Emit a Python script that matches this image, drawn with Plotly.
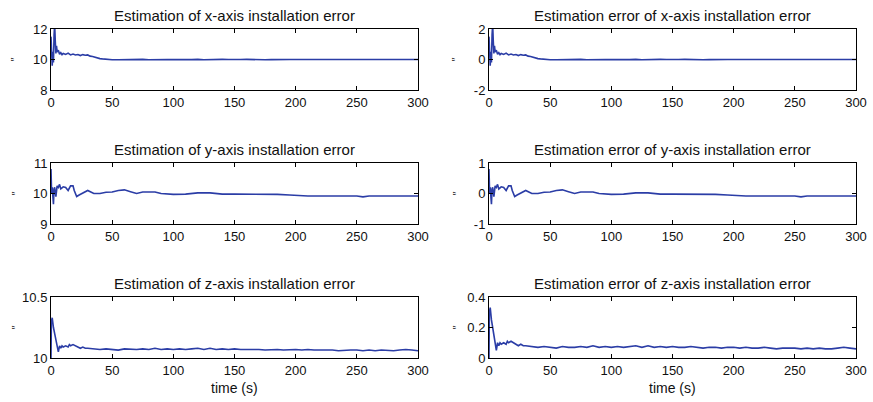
import plotly.graph_objects as go

# ---------------- data ----------------
true_value = 10.0  # nominal installation error (″); errors = estimate - true value

t_x = [0, 0.5, 1, 1.5, 2, 2.5, 3, 3.5, 4, 4.5, 5, 6, 7, 8, 9, 10, 12, 14, 16, 18, 20,
       22, 24, 26, 28, 30, 32, 34, 36, 38, 40, 42, 44, 46, 48, 50, 55, 60, 65, 70,
       75, 80, 85, 90, 95, 100, 105, 110, 115, 120, 125, 130, 135, 140, 145, 150,
       155, 160, 165, 170, 175, 180, 185, 190, 195, 200, 250, 300]
x_est = [11.5, 10.9, 9.6, 10.5, 9.8, 11.6, 12.3, 11.2, 10.4, 10.9, 10.5, 10.6, 10.35,
         10.45, 10.32, 10.4, 10.33, 10.42, 10.3, 10.36, 10.3, 10.33, 10.26, 10.32,
         10.28, 10.3, 10.22, 10.2, 10.14, 10.1, 10.06, 10.04, 10.02, 10.0, 9.99,
         9.98, 9.98, 9.99, 10.02, 9.99, 10.01, 9.98, 10.0, 9.99, 10.0, 9.99, 10.02,
         10.0, 9.99, 10.01, 9.98, 10.0, 9.99, 10.01, 10.0, 9.98, 10.0, 10.01, 9.99,
         10.0, 9.98, 9.99, 10.01, 9.99, 10.0, 10.0, 10.0, 10.0]

t_y = [0, 0.5, 1, 1.5, 2, 2.5, 3, 4, 5, 6, 7, 8, 10, 12, 14, 16, 18, 19, 21, 23, 25,
       30, 35, 40, 45, 50, 55, 60, 65, 70, 75, 80, 85, 90, 100, 110, 120, 130, 140,
       150, 160, 170, 185, 195, 205, 210, 250, 255, 260, 280, 300]
y_est = [10.8, 10.0, 10.2, 9.85, 9.65, 10.15, 10.2, 9.9, 10.25, 10.2, 10.3, 10.15,
         10.22, 10.2, 10.1, 10.25, 10.25, 10.1, 9.9, 9.95, 10.0, 10.1, 10.0, 10.0,
         10.04, 10.05, 10.1, 10.12, 10.06, 10.0, 10.05, 10.06, 10.05, 10.0, 9.97,
         9.98, 10.02, 10.02, 9.98, 9.98, 9.98, 9.97, 9.97, 9.95, 9.93, 9.92, 9.92,
         9.89, 9.92, 9.92, 9.92]

t_z = [0, 0.3, 1, 1.5, 2, 3, 4, 5, 6, 7, 8, 9, 10, 12, 14, 15, 16, 18, 20, 22, 24,
       26, 28, 30, 35, 40, 45, 50, 55, 60, 65, 70, 75, 80, 85, 90, 95, 100, 105,
       110, 115, 120, 125, 130, 135, 140, 145, 150, 155, 160, 165, 170, 175, 180,
       185, 190, 195, 200, 205, 210, 215, 220, 225, 230, 235, 240, 245, 250, 255,
       260, 265, 270, 275, 280, 285, 290, 295, 300]
z_est = [10.0, 10.3, 10.33, 10.26, 10.25, 10.2, 10.15, 10.09, 10.05, 10.1, 10.08,
         10.1, 10.09, 10.1, 10.09, 10.11, 10.1, 10.11, 10.1, 10.09, 10.08, 10.09,
         10.08, 10.08, 10.075, 10.07, 10.075, 10.07, 10.065, 10.075, 10.07, 10.07,
         10.075, 10.07, 10.08, 10.07, 10.075, 10.07, 10.075, 10.07, 10.075, 10.08,
         10.07, 10.08, 10.07, 10.075, 10.07, 10.075, 10.07, 10.07, 10.075, 10.07,
         10.065, 10.07, 10.07, 10.065, 10.07, 10.07, 10.065, 10.07, 10.065, 10.065,
         10.07, 10.065, 10.06, 10.065, 10.065, 10.065, 10.06, 10.065, 10.06, 10.065,
         10.06, 10.06, 10.065, 10.07, 10.065, 10.06]

x_err = [round(v - true_value, 4) for v in x_est]
y_err = [round(v - true_value, 4) for v in y_est]
z_err = [round(v - true_value, 4) for v in z_est]

titles = ["Estimation of x-axis installation error", "Estimation error of x-axis installation error",
          "Estimation of y-axis installation error", "Estimation error of y-axis installation error",
          "Estimation of z-axis installation error", "Estimation error of z-axis installation error"]
y_ranges = [[8, 12], [-2, 2], [9, 11], [-1, 1], [10, 10.5], [0, 0.4]]
y_tickvals = [[8, 10, 12], [-2, 0, 2], [9, 10, 11], [-1, 0, 1], [10, 10.5], [0, 0.2, 0.4]]
y_ticktext = [["8", "10", "12"], ["-2", "0", "2"], ["9", "10", "11"], ["-1", "0", "1"],
              ["10", "10.5"], ["0", "0.2", "0.4"]]
x_tickvals = [0, 50, 100, 150, 200, 250, 300]
x_label = "time (s)"
y_unit = "″"

series = [(t_x, x_est), (t_x, x_err), (t_y, y_est), (t_y, y_err), (t_z, z_est), (t_z, z_err)]

# ---------------- layout ----------------
W, H = 873, 402
col_px = [(51, 418), (489, 856)]
row_px = [(29, 90), (163, 224), (297, 358)]
line_color = "#2B3DA6"
font_family = "Liberation Sans, Arial, sans-serif"

fig = go.Figure()
annotations = []
for i, (tt, vv) in enumerate(series):
    r, c = divmod(i, 2)
    n = i + 1
    xa = "x" if n == 1 else f"x{n}"
    ya = "y" if n == 1 else f"y{n}"
    fig.add_trace(go.Scatter(x=tt, y=vv, mode="lines", xaxis=xa, yaxis=ya,
                             line=dict(color=line_color, width=1.6), showlegend=False,
                             hoverinfo="skip"))
    x0, x1 = col_px[c]
    top, bot = row_px[r]
    xd = [x0 / W, x1 / W]
    yd = [(H - bot) / H, (H - top) / H]
    axis_common = dict(showline=True, linecolor="black", linewidth=1, mirror="ticks",
                       ticks="inside", ticklen=4, tickcolor="black", showgrid=False,
                       zeroline=False, automargin=False,
                       tickfont=dict(family=font_family, size=13, color="#111"))
    fig.layout[f"xaxis{'' if n == 1 else n}"] = dict(
        domain=xd, range=[0, 300], tickvals=x_tickvals, anchor=ya, **axis_common)
    fig.layout[f"yaxis{'' if n == 1 else n}"] = dict(
        domain=yd, range=y_ranges[i], tickvals=y_tickvals[i], ticktext=y_ticktext[i],
        anchor=xa, **axis_common)
    # subplot title
    annotations.append(dict(text=titles[i], x=(xd[0] + xd[1]) / 2, y=yd[1], xref="paper",
                            yref="paper", xanchor="center", yanchor="bottom", yshift=3,
                            showarrow=False, font=dict(family=font_family, size=15, color="#111")))
    # y unit label
    ux = (15 if c == 0 else 456) / W
    annotations.append(dict(text=y_unit, x=ux, y=(yd[0] + yd[1]) / 2, xref="paper",
                            yref="paper", xanchor="center", yanchor="middle", textangle=-90,
                            showarrow=False, font=dict(family=font_family, size=11, color="#111")))

for c in range(2):
    x0, x1 = col_px[c]
    annotations.append(dict(text=x_label, x=(x0 + x1) / 2 / W, y=(H - 388) / H, xref="paper",
                            yref="paper", xanchor="center", yanchor="middle", showarrow=False,
                            font=dict(family=font_family, size=14, color="#111")))

fig.update_layout(width=W, height=H, margin=dict(l=0, r=0, t=0, b=0),
                  paper_bgcolor="white", plot_bgcolor="white", annotations=annotations,
                  font=dict(family=font_family))

fig.write_html("out.html", config={"displayModeBar": False},
               post_script="document.body.style.margin='0';document.body.style.overflow='hidden';")
